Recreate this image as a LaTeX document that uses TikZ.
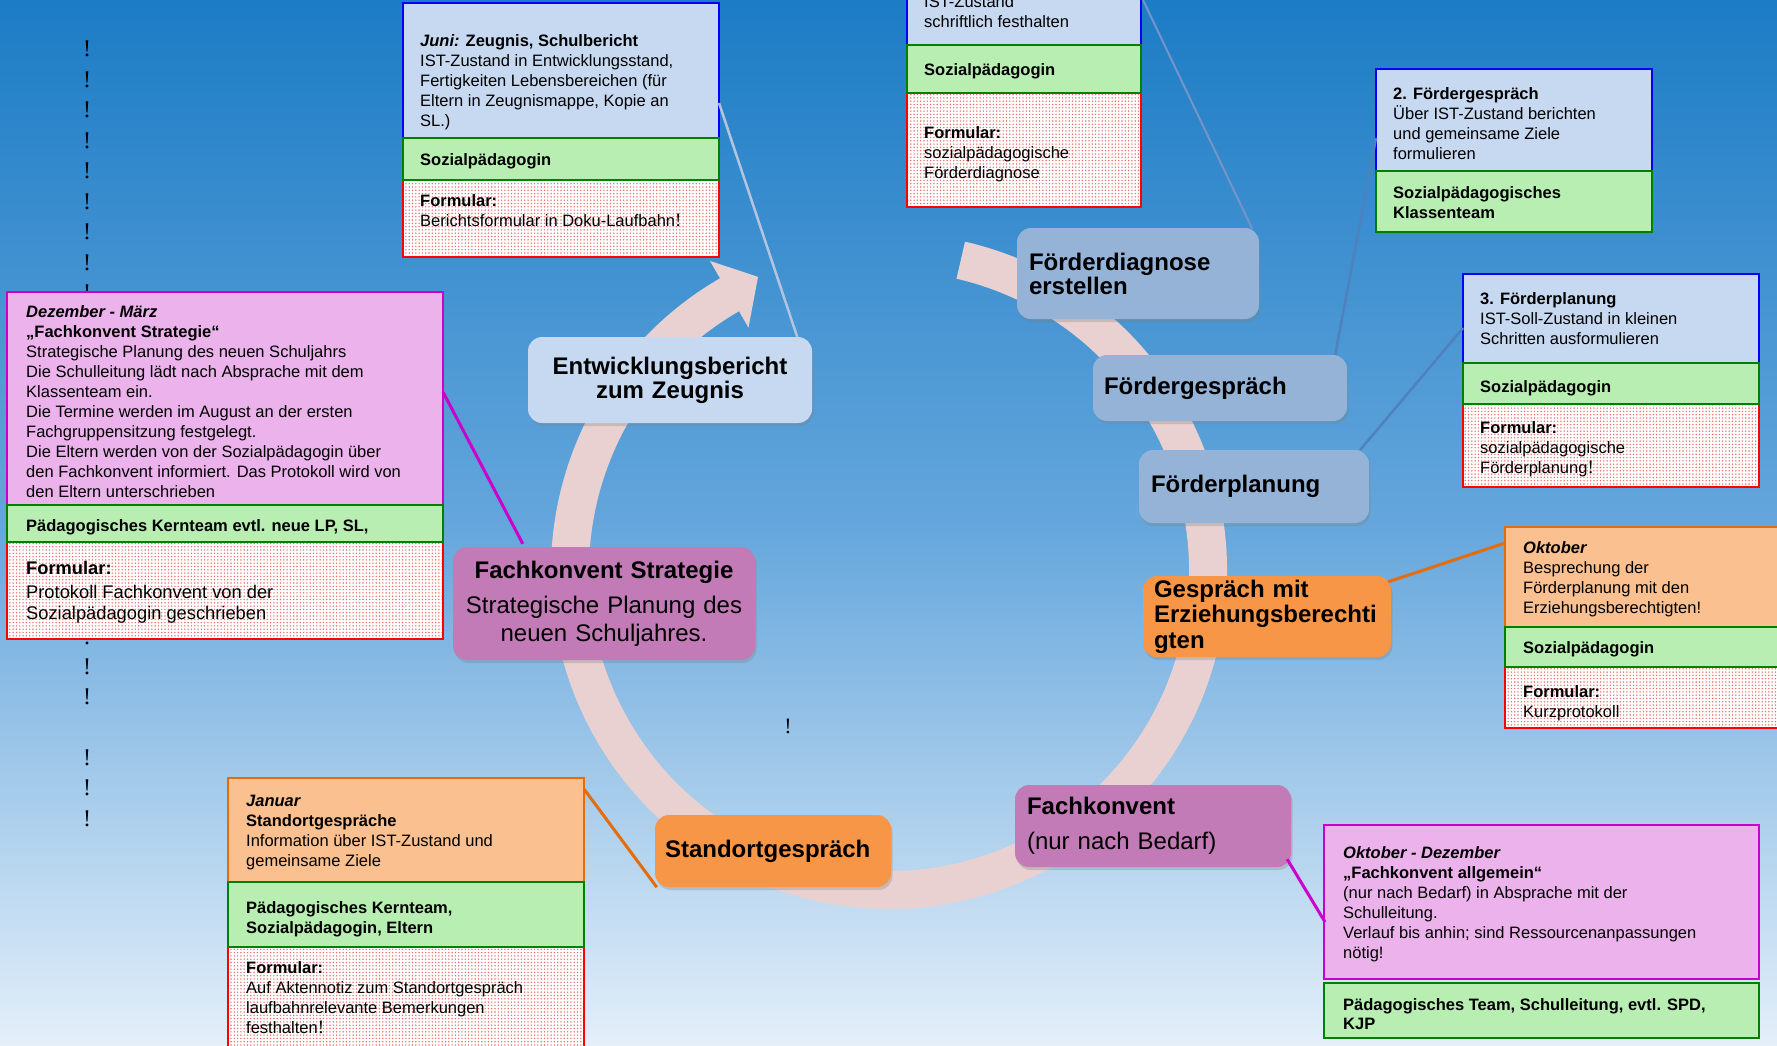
\documentclass[tikz,border=0pt]{standalone}
\usepackage{fontspec}
\setmainfont{Liberation Sans}
\newfontfamily\timesf{Liberation Serif}
\usetikzlibrary{calc,shadows,patterns}
\pgfdeclarepatternformonly{bigdots}{\pgfqpoint{-1pt}{-1pt}}{\pgfqpoint{2.3pt}{2.3pt}}{\pgfqpoint{3.3pt}{3.3pt}}{%
  \pgfpathcircle{\pgfqpoint{0pt}{0pt}}{0.8pt}\pgfusepath{fill}}
\hyphenpenalty=10000 \exhyphenpenalty=10000
\definecolor{bgtop}{RGB}{28,124,197}
\definecolor{bgmid}{RGB}{100,166,220}
\definecolor{bgbot}{RGB}{228,239,249}
\definecolor{pblue}{RGB}{0,0,255}
\definecolor{pbluefill}{RGB}{198,217,241}
\definecolor{pgreen}{RGB}{0,128,0}
\definecolor{pgreenfill}{RGB}{184,238,178}
\definecolor{pred}{RGB}{255,0,0}
\definecolor{pdot}{RGB}{236,110,110}
\definecolor{ppink}{RGB}{204,0,204}
\definecolor{ppinkfill}{RGB}{235,178,235}
\definecolor{porange}{RGB}{228,108,10}
\definecolor{porangefill}{RGB}{250,192,143}
\definecolor{nblueA}{RGB}{198,217,241}
\definecolor{nblueB}{RGB}{149,179,215}
\definecolor{norange}{RGB}{247,150,70}
\definecolor{npurple}{RGB}{194,123,182}
\definecolor{arccol}{RGB}{233,209,209}
\definecolor{connA}{RGB}{178,196,224}
\definecolor{connB}{RGB}{118,148,200}
\definecolor{connC}{RGB}{79,129,189}
\newcommand\bang{{\timesf\fontsize{19}{20}\selectfont!}}
\newcommand\pnl[6]{\node[#1, minimum width={(#5)-(#3)}, minimum height={(#6)-(#4)}] (#2) at (#3,#4) {};}
\newcommand\tb[4]{\node[txt] (#1) at (#2,{#3-15.5}) {\rule{0pt}{15.5pt}#4};}
\begin{document}
\begin{tikzpicture}[x=1pt,y=-1pt,
  panel/.style={anchor=north west, inner sep=0pt, outer sep=0pt, line width=2pt},
  bluep/.style={panel, draw=pblue, fill=pbluefill},
  greenp/.style={panel, draw=pgreen, fill=pgreenfill},
  redp/.style={panel, draw=pred, preaction={fill=white}, pattern=bigdots, pattern color=pdot},
  pinkp/.style={panel, draw=ppink, fill=ppinkfill},
  orangep/.style={panel, draw=porange, fill=porangefill},
  txt/.style={anchor=north west, inner sep=0pt, align=left, font=\fontsize{16.5}{20}\selectfont},
  excl/.style={inner sep=0pt, font=\timesf\fontsize{24}{24}\selectfont},
  mainbox/.style={rounded corners=14pt, inner xsep=12pt, inner ysep=0pt,
     drop shadow={shadow xshift=1.5pt, shadow yshift=-3pt, opacity=0.3}},
  conn/.style={line width=2.5pt},
]
\useasboundingbox (0,0) rectangle (1777,1045);
\begin{scope}
\clip (0,0) rectangle (1777,1045);
\shade[top color=bgtop, bottom color=bgbot, middle color=bgmid] (0,0) rectangle (1777,1045);

% column of exclamation marks
\foreach \yy [count=\i] in {49,79.5,110,140.5,171,201.5,232,262.5,293,637,667,697,758,788,819}
  \node[excl] (ex\i) at (87,\yy) {!};
\node[excl, font=\timesf\fontsize{22}{22}\selectfont] (exc) at (788,726) {!};

% circular arrow
\coordinate (C) at (889,571);
\fill[arccol] ($(C)+(-77:338)$) arc[start angle=-77, end angle=240, radius=338]
  -- ($(C)+(240:358)$) -- ($(C)+(246:322)$) -- ($(C)+(240:281)$) -- ($(C)+(240:300)$)
  arc[start angle=240, end angle=-77, radius=300] -- cycle;

% main nodes
\node[mainbox, fill=nblueA, minimum width=284pt, minimum height=86pt, text width=260pt, align=center,
  font={\fontsize{24}{24}\selectfont\bfseries}] (entw) at (670,380) {Entwicklungsbericht\\zum Zeugnis};
\node[mainbox, fill=npurple, minimum width=302pt, minimum height=113pt, text width=278pt, align=center,
  font={\fontsize{24}{28}\selectfont}] (fks) at (604,603.5) {\textbf{Fachkonvent Strategie}\\[7pt]Strategische Planung des\\neuen Schuljahres.};
\node[mainbox, fill=nblueB, minimum width=242pt, minimum height=91pt, text width=218pt, align=left,
  font={\fontsize{24}{24}\selectfont\bfseries}] (fd) at (1138,273.5) {Förderdiagnose\\erstellen};
\node[mainbox, fill=nblueB, inner xsep=11pt, minimum width=254pt, minimum height=66pt, text width=232pt, align=left,
  font={\fontsize{24}{24}\selectfont\bfseries}] (fg) at (1220,388) {Fördergespräch};
\node[mainbox, fill=nblueB, minimum width=230pt, minimum height=73pt, text width=206pt, align=left,
  font={\fontsize{24}{24}\selectfont\bfseries}] (fp) at (1254,486.5) {Förderplanung};
\node[mainbox, fill=norange, minimum width=248pt, minimum height=81pt, text width=226pt, inner xsep=11pt, align=left,
  font={\fontsize{24}{25.5}\selectfont\bfseries}] (ge) at (1267,616.5) {Gespräch mit\\Erziehungsberechti\\gten};
\node[mainbox, fill=norange, inner xsep=10pt, minimum width=236pt, minimum height=72pt, text width=216pt, align=left,
  font={\fontsize{24}{24}\selectfont\bfseries}] (sg) at (773,851) {Standortgespräch};
\node[mainbox, fill=npurple, minimum width=276pt, minimum height=82pt, text width=252pt, align=left,
  font={\fontsize{24}{28}\selectfont}] (fk) at (1153,826) {\textbf{Fachkonvent}\\[7pt](nur nach Bedarf)};

% detail panels
\pnl{bluep}{juniB}{403}{3}{719}{138}
\pnl{redp}{juniR}{403}{180}{719}{257}
\pnl{greenp}{juniG}{403}{138}{719}{180}

\pnl{bluep}{diagB}{907}{-30}{1141}{45}
\pnl{redp}{diagR}{907}{93}{1141}{207}
\pnl{greenp}{diagG}{907}{45}{1141}{93}

\pnl{bluep}{gesB}{1376}{69}{1652}{171}
\pnl{greenp}{gesG}{1376}{171}{1652}{232}

\pnl{bluep}{planB}{1463}{274}{1759}{363}
\pnl{redp}{planR}{1463}{404}{1759}{487}
\pnl{greenp}{planG}{1463}{363}{1759}{404}

\pnl{orangep}{oktO}{1505}{527}{1790}{627}
\pnl{redp}{oktR}{1505}{667}{1790}{728}
\pnl{greenp}{oktG}{1505}{627}{1790}{667}

\pnl{pinkp}{odP}{1324}{825}{1759}{979}
\pnl{greenp}{odG}{1324}{983}{1759}{1038}

\pnl{pinkp}{dmP}{7}{292}{443}{505}
\pnl{redp}{dmR}{7}{542}{443}{639}
\pnl{greenp}{dmG}{7}{505}{443}{542}

\pnl{orangep}{janO}{228}{778}{584}{882}
\pnl{redp}{janR}{228}{947}{584}{1060}
\pnl{greenp}{janG}{228}{882}{584}{947}

% connectors
\draw[conn, draw=connA] ($(juniB.north east)+(0,100)$) -- ($(entw.north east)+(-15,0)$);
\draw[conn, draw=connB, line width=2pt] ($(diagG.north east)+(2,-45)$) -- ($(fd.north east)+(-7,1)$);
\draw[conn, draw=connC] ($(gesB.north west)+(0,69)$) -- ($(fg.north east)+(-12,0)$);
\draw[conn, draw=connC] ($(planB.north west)+(0,54)$) -- ($(fp.north east)+(-9,0)$);
\draw[conn, draw=porange, line width=3pt] ($(oktO.north west)+(0,16)$) -- ($(ge.north east)+(-3,6)$);
\draw[conn, draw=ppink, line width=3pt] ($(dmP.north east)+(0,100)$) -- ($(fks.north west)+(70,-3)$);
\draw[conn, draw=ppink, line width=3pt] ($(fk.south east)+(-4,-8)$) -- ($(odP.north west)+(1,97)$);
\draw[conn, draw=porange, line width=3pt] ($(janO.north east)+(0,11)$) -- ($(sg.south west)+(2,0)$);

% texts
\tb{juniT1}{420}{46}{\textbf{\textit{Juni:} Zeugnis, Schulbericht}\\IST-Zustand in Entwicklungsstand,\\Fertigkeiten Lebensbereichen (für\\Eltern in Zeugnismappe, Kopie an\\SL.)}
\tb{juniT2}{420}{165}{\textbf{Sozialpädagogin}}
\tb{juniT3}{420}{206}{\textbf{Formular:}\\Berichtsformular in Doku-Laufbahn\bang}

\tb{diagT1}{924}{7}{IST-Zustand\\schriftlich festhalten}
\tb{diagT2}{924}{75}{\textbf{Sozialpädagogin}}
\tb{diagT3}{924}{138}{\textbf{Formular:}\\sozialpädagogische\\Förderdiagnose}

\tb{gesT1}{1393}{99}{\textbf{2. Fördergespräch}\\Über IST-Zustand berichten\\und gemeinsame Ziele\\formulieren}
\tb{gesT2}{1393}{198}{\textbf{Sozialpädagogisches}\\\textbf{Klassenteam}}

\tb{planT1}{1480}{304}{\textbf{3. Förderplanung}\\IST-Soll-Zustand in kleinen\\Schritten ausformulieren}
\tb{planT2}{1480}{392}{\textbf{Sozialpädagogin}}
\tb{planT3}{1480}{433}{\textbf{Formular:}\\sozialpädagogische\\Förderplanung\bang}

\tb{oktT1}{1523}{553}{\textbf{\textit{Oktober}}\\Besprechung der\\Förderplanung mit den\\Erziehungsberechtigten!}
\tb{oktT2}{1523}{653}{\textbf{Sozialpädagogin}}
\tb{oktT3}{1523}{697}{\textbf{Formular:}\\Kurzprotokoll}

\tb{odT1}{1343}{858}{\textbf{\textit{Oktober - Dezember}}\\\textbf{„Fachkonvent allgemein“}\\(nur nach Bedarf) in Absprache mit der\\Schulleitung.\\Verlauf bis anhin; sind Ressourcenanpassungen\\nötig!}
\tb{odT2}{1343}{1010}{\textbf{Pädagogisches Team, Schulleitung, evtl. SPD,}\\[-1pt]\textbf{KJP}}

\tb{dmT1}{26}{317}{\textbf{\textit{Dezember - März}}\\\textbf{„Fachkonvent Strategie“}\\Strategische Planung des neuen Schuljahrs\\Die Schulleitung lädt nach Absprache mit dem\\Klassenteam ein.\\Die Termine werden im August an der ersten\\Fachgruppensitzung festgelegt.\\Die Eltern werden von der Sozialpädagogin über\\den Fachkonvent informiert. Das Protokoll wird von\\den Eltern unterschrieben}
\tb{dmT2}{26}{531}{\textbf{Pädagogisches Kernteam evtl. neue LP, SL,}}
\node[txt, font=\fontsize{18.3}{21}\selectfont] (dmT3) at (26,557.5) {\rule{0pt}{17pt}\textbf{Formular:}\\[3pt]Protokoll Fachkonvent von der\\Sozialpädagogin geschrieben};

\tb{janT1}{246}{806}{\textbf{\textit{Januar}}\\\textbf{Standortgespräche}\\Information über IST-Zustand und\\gemeinsame Ziele}
\tb{janT2}{246}{913}{\textbf{Pädagogisches Kernteam,}\\\textbf{Sozialpädagogin, Eltern}}
\tb{janT3}{246}{973}{\textbf{Formular:}\\Auf Aktennotiz zum Standortgespräch\\laufbahnrelevante Bemerkungen\\festhalten\bang}
\end{scope}
\end{tikzpicture}
\end{document}
